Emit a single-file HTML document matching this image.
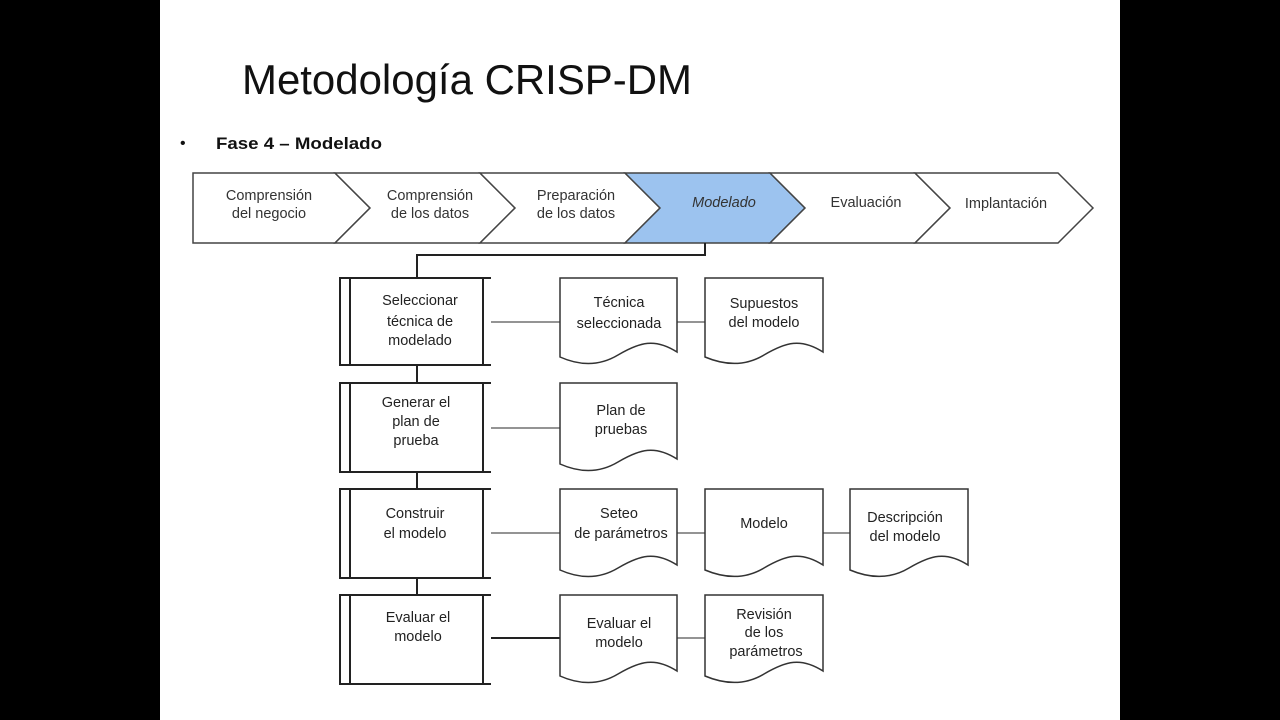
<!DOCTYPE html>
<html><head><meta charset="utf-8"><style>
body{margin:0;background:#000;width:1280px;height:720px;overflow:hidden}
svg{display:block}
</style></head><body>
<svg width="1280" height="720" viewBox="0 0 1280 720" font-family="Liberation Sans, sans-serif">
<rect x="0" y="0" width="1280" height="720" fill="#000"/>
<rect x="160" y="0" width="960" height="720" fill="#fff"/>
<text x="242" y="94" font-size="42" fill="#111" textLength="450" lengthAdjust="spacingAndGlyphs">Metodología CRISP-DM</text>
<text x="180" y="148" font-size="16" fill="#111">•</text>
<text x="216" y="149" font-size="17" font-weight="bold" fill="#111" textLength="166" lengthAdjust="spacingAndGlyphs">Fase 4 – Modelado</text>
<g stroke="#444" stroke-width="1.5" fill="#fff">
<polygon points="193,173 335,173 370,208 335,243 193,243"/>
<polygon points="335,173 480,173 515,208 480,243 335,243 370,208"/>
<polygon points="480,173 625,173 660,208 625,243 480,243 515,208"/>
<polygon points="625,173 770,173 805,208 770,243 625,243 660,208" fill="#9cc3ef"/>
<polygon points="770,173 915,173 950,208 915,243 770,243 805,208"/>
<polygon points="915,173 1058,173 1093,208 1058,243 915,243 950,208"/>
</g>
<g font-size="14.5" fill="#333" text-anchor="middle">
<text x="269" y="200">Comprensión</text><text x="269" y="218">del negocio</text>
<text x="430" y="200">Comprensión</text><text x="430" y="218">de los datos</text>
<text x="576" y="200">Preparación</text><text x="576" y="218">de los datos</text>
<text x="724" y="207" font-style="italic">Modelado</text>
<text x="866" y="207">Evaluación</text>
<text x="1006" y="208">Implantación</text>
</g>
<g stroke="#222" stroke-width="2" fill="none">
<polyline points="705,243 705,255 417,255 417,278"/>
<line x1="417" y1="365" x2="417" y2="383"/>
<line x1="417" y1="472" x2="417" y2="489"/>
<line x1="417" y1="578" x2="417" y2="595"/>
</g>
<g stroke="#222" stroke-width="2" fill="#fff">
<rect x="340" y="278" width="143" height="87"/><line x1="350" y1="278" x2="350" y2="365"/><line x1="483" y1="278" x2="491" y2="278"/><line x1="483" y1="365" x2="491" y2="365"/>
<rect x="340" y="383" width="143" height="89"/><line x1="350" y1="383" x2="350" y2="472"/><line x1="483" y1="383" x2="491" y2="383"/><line x1="483" y1="472" x2="491" y2="472"/>
<rect x="340" y="489" width="143" height="89"/><line x1="350" y1="489" x2="350" y2="578"/><line x1="483" y1="489" x2="491" y2="489"/><line x1="483" y1="578" x2="491" y2="578"/>
<rect x="340" y="595" width="143" height="89"/><line x1="350" y1="595" x2="350" y2="684"/><line x1="483" y1="595" x2="491" y2="595"/><line x1="483" y1="684" x2="491" y2="684"/>
</g>
<g stroke="#555" stroke-width="1.3">
<line x1="491" y1="322" x2="560" y2="322"/><line x1="677" y1="322" x2="705" y2="322"/>
<line x1="491" y1="428" x2="560" y2="428"/>
<line x1="491" y1="533" x2="560" y2="533"/><line x1="677" y1="533" x2="705" y2="533"/><line x1="823" y1="533" x2="850" y2="533"/>
<line x1="491" y1="638" x2="560" y2="638" stroke="#222" stroke-width="2"/><line x1="677" y1="638" x2="705" y2="638"/>
</g>
<g stroke="#333" stroke-width="1.5" fill="#fff">
<path d="M560,278 H677 V352 C655,338 640,342 618,355 C598,367 578,365 560,357 Z"/>
<path d="M705,278 H823 V352 C801,338 786,342 764,355 C744,367 724,365 705,357 Z"/>
<path d="M560,383 H677 V459 C655,445 640,449 618,462 C598,474 578,472 560,464 Z"/>
<path d="M560,489 H677 V565 C655,551 640,555 618,568 C598,580 578,578 560,570 Z"/>
<path d="M705,489 H823 V565 C801,551 786,555 764,568 C744,580 724,578 705,570 Z"/>
<path d="M850,489 H968 V565 C946,551 931,555 909,568 C889,580 869,578 850,570 Z"/>
<path d="M560,595 H677 V671 C655,657 640,661 618,674 C598,686 578,684 560,676 Z"/>
<path d="M705,595 H823 V671 C801,657 786,661 764,674 C744,686 724,684 705,676 Z"/>
</g>
<g font-size="14.5" fill="#222" text-anchor="middle">
<text x="420" y="305">Seleccionar</text><text x="420" y="326">técnica de</text><text x="420" y="345">modelado</text>
<text x="416" y="407">Generar el</text><text x="416" y="426">plan de</text><text x="416" y="445">prueba</text>
<text x="415" y="518">Construir</text><text x="415" y="538">el modelo</text>
<text x="418" y="622">Evaluar el</text><text x="418" y="641">modelo</text>
<text x="619" y="307">Técnica</text><text x="619" y="328">seleccionada</text>
<text x="764" y="308">Supuestos</text><text x="764" y="327">del modelo</text>
<text x="621" y="415">Plan de</text><text x="621" y="434">pruebas</text>
<text x="619" y="518">Seteo</text><text x="621" y="538">de parámetros</text>
<text x="764" y="528">Modelo</text>
<text x="905" y="522">Descripción</text><text x="905" y="541">del modelo</text>
<text x="619" y="628">Evaluar el</text><text x="619" y="647">modelo</text>
<text x="764" y="619">Revisión</text><text x="764" y="637">de los</text><text x="766" y="656">parámetros</text>
</g>
</svg>
</body></html>
